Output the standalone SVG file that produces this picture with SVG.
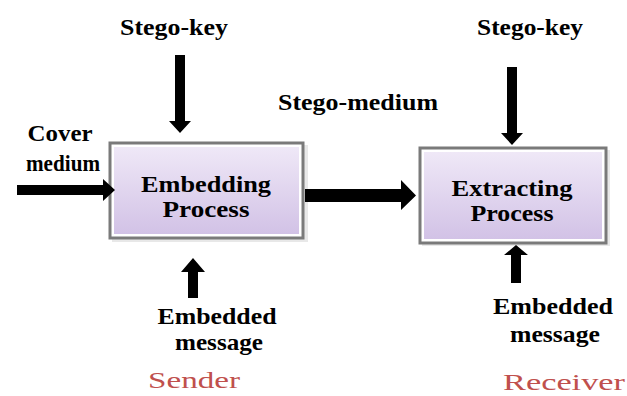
<svg xmlns="http://www.w3.org/2000/svg" width="627" height="396" viewBox="0 0 627 396">
<defs>
<linearGradient id="g" x1="0" y1="0" x2="0" y2="1">
<stop offset="0" stop-color="#efe8f7"/>
<stop offset="1" stop-color="#d2c2e6"/>
</linearGradient>
<style>
.t{font-family:"Liberation Serif","Times New Roman",serif;font-weight:bold;font-size:23px;fill:#000;text-anchor:middle}
.r{font-family:"Liberation Serif","Times New Roman",serif;font-size:24px;fill:#c0504d;text-anchor:middle}
.box{fill:#fff;stroke:#7a7a7a;stroke-width:3}
.in{fill:url(#g)}
.arr{fill:#000}
</style>
</defs>
<rect width="627" height="396" fill="#fff"/>
<g id="embedding">
<rect x="112" y="145" width="196" height="97" fill="#d9d9d9" opacity="0.6"/>
<rect class="box" x="110" y="143" width="193" height="95"/>
<rect class="in" x="114" y="147" width="185" height="87"/>
<text class="t" x="206" y="192" textLength="130" lengthAdjust="spacingAndGlyphs">Embedding</text>
<text class="t" x="206" y="217" textLength="87" lengthAdjust="spacingAndGlyphs">Process</text>
</g>
<g id="extracting">
<rect x="422" y="150" width="188" height="96" fill="#d9d9d9" opacity="0.6"/>
<rect class="box" x="420" y="148" width="186" height="95"/>
<rect class="in" x="424" y="152" width="178" height="87"/>
<text class="t" x="512" y="196" textLength="121" lengthAdjust="spacingAndGlyphs">Extracting</text>
<text class="t" x="512" y="221" textLength="83" lengthAdjust="spacingAndGlyphs">Process</text>
</g>
<g id="labels">
<text class="t" x="174" y="35" textLength="108" lengthAdjust="spacingAndGlyphs">Stego-key</text>
<text class="t" x="530" y="35" textLength="106" lengthAdjust="spacingAndGlyphs">Stego-key</text>
<text class="t" x="358" y="110" textLength="160" lengthAdjust="spacingAndGlyphs">Stego-medium</text>
<text class="t" x="60" y="141" textLength="65" lengthAdjust="spacingAndGlyphs">Cover</text>
<text class="t" x="63" y="171" textLength="74" lengthAdjust="spacingAndGlyphs">medium</text>
<text class="t" x="217" y="324" textLength="119" lengthAdjust="spacingAndGlyphs">Embedded</text>
<text class="t" x="219" y="350" textLength="88" lengthAdjust="spacingAndGlyphs">message</text>
<text class="t" x="553" y="314" textLength="120" lengthAdjust="spacingAndGlyphs">Embedded</text>
<text class="t" x="555" y="342" textLength="90" lengthAdjust="spacingAndGlyphs">message</text>
<text class="r" x="194" y="388" textLength="92" lengthAdjust="spacingAndGlyphs">Sender</text>
<text class="r" x="564" y="390" textLength="122" lengthAdjust="spacingAndGlyphs">Receiver</text>
</g>
<g id="connectors">
<polygon class="arr" points="175,55 185,55 185,121 191,121 180,133 169,121 175,121"/>
<polygon class="arr" points="507,67 517,67 517,133 523,133 512,145 501,133 507,133"/>
<polygon class="arr" points="305,189 401,189 401,180 416,195.5 401,210 401,202 305,202"/>
<polygon class="arr" points="17,185 103,185 103,179 115,190 103,201 103,195 17,195"/>
<polygon class="arr" points="188,298 198,298 198,272 205,272 193,258 181,272 188,272"/>
<polygon class="arr" points="511,283 521,283 521,255 528,255 516,245 504,255 511,255"/>
</g>
</svg>
